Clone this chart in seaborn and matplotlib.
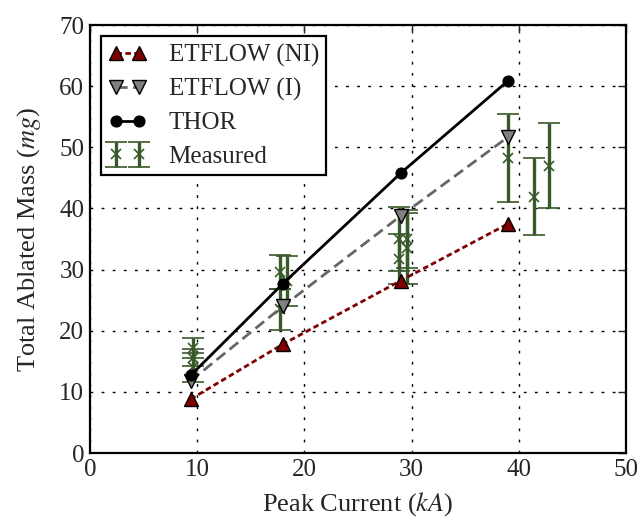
import matplotlib
matplotlib.use("Agg")
import matplotlib.pyplot as plt
import seaborn as sns
import pandas as pd

# ---- data ----
peak_current = [9.4, 18.0, 29.0, 39.0]
etflow_ni = [8.8, 17.8, 28.2, 37.5]
etflow_i = [11.8, 24.0, 38.8, 51.7]
thor = [12.7, 27.7, 45.8, 60.9]

meas_x = [9.6, 9.6, 9.6, 17.7, 17.7, 18.4, 28.8, 28.8, 29.6, 29.6, 39.0, 41.4, 42.8]
meas_y = [17.2, 15.6, 14.0, 23.5, 29.6, 28.2, 35.0, 31.8, 35.0, 33.5, 48.2, 41.9, 47.0]
meas_err = [1.6, 1.4, 2.4, 3.4, 2.8, 4.1, 5.2, 4.1, 4.8, 5.8, 7.2, 6.3, 7.0]

x_ticks = [0, 10, 20, 30, 40, 50]
y_ticks = [0, 10, 20, 30, 40, 50, 60, 70]

sns.set_style("white")
plt.rcParams['font.family'] = ['Liberation Serif', 'DejaVu Serif']
plt.rcParams['mathtext.fontset'] = 'stix'

fig = plt.figure(figsize=(6.37, 5.21), dpi=100)
ax = fig.add_axes([0.141, 0.1305, 0.842, 0.8215])

green = '#38592a'
ax.errorbar(meas_x, meas_y, yerr=meas_err, fmt='x', color=green, ecolor=green,
            elinewidth=2.4, capsize=8, capthick=2, markersize=7, mew=1.2,
            label='Measured', zorder=2)

df = pd.DataFrame({'x': peak_current, 'ni': etflow_ni, 'i': etflow_i, 'thor': thor})
sns.lineplot(data=df, x='x', y='ni', ax=ax, color='#800000', linestyle=(0, (2, 1.2)),
             lw=2, marker='^', markersize=10, markerfacecolor='#800000',
             markeredgecolor='black', markeredgewidth=1, label='ETFLOW (NI)', zorder=3)
sns.lineplot(data=df, x='x', y='i', ax=ax, color='#666666', linestyle=(0, (4, 2)),
             lw=2, marker='v', markersize=10, markerfacecolor='#808080',
             markeredgecolor='black', markeredgewidth=1, label='ETFLOW (I)', zorder=3)
sns.lineplot(data=df, x='x', y='thor', ax=ax, color='black', linestyle='-',
             lw=2, marker='o', markersize=8, markerfacecolor='black',
             markeredgecolor='black', label='THOR', zorder=4)

ax.set_xlim(0, 50)
ax.set_ylim(0, 70)
ax.set_xticks(x_ticks)
ax.set_yticks(y_ticks)
ax.set_xlabel('Peak Current ($kA$)', fontsize=19, labelpad=7)
ax.set_ylabel('Total Ablated Mass ($mg$)', fontsize=19, labelpad=12)
ax.tick_params(direction='in', top=True, right=True, length=6, width=1,
               labelsize=18, pad=4)
ax.grid(True, color='black', linestyle=(0, (2, 6)), lw=1)
for s in ax.spines.values():
    s.set_linewidth(1.6)
    s.set_color('black')

handles, labels = ax.get_legend_handles_labels()
order = ['ETFLOW (NI)', 'ETFLOW (I)', 'THOR', 'Measured']
hs = [handles[labels.index(o)] for o in order]
leg = ax.legend(hs, order, loc='upper left', numpoints=2, fontsize=18,
                frameon=True, fancybox=False, borderaxespad=0.45,
                handlelength=1.5, handletextpad=0.9, labelspacing=0.44,
                borderpad=0.3)
leg.get_frame().set_edgecolor('black')
leg.get_frame().set_linewidth(1.6)
leg.get_frame().set_alpha(1)

fig.savefig('out.png', dpi=100)
